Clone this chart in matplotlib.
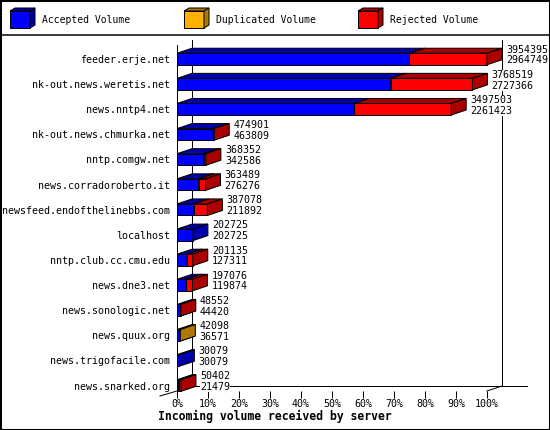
import matplotlib
matplotlib.use("Agg")
import matplotlib.pyplot as plt
from matplotlib.patches import Rectangle, Polygon

# data (bytes per server)
hosts = ["feeder.erje.net", "nk-out.news.weretis.net", "news.nntp4.net",
         "nk-out.news.chmurka.net", "nntp.comgw.net", "news.corradoroberto.it",
         "newsfeed.endofthelinebbs.com", "localhost", "nntp.club.cc.cmu.edu",
         "news.dne3.net", "news.sonologic.net", "news.quux.org",
         "news.trigofacile.com", "news.snarked.org"]
total = [3954395, 3768519, 3497503, 474901, 368352, 363489, 387078,
         202725, 201135, 197076, 48552, 42098, 30079, 50402]
accepted = [2964749, 2727366, 2261423, 463809, 342586, 276276, 211892,
            202725, 127311, 119874, 44420, 36571, 30079, 21479]
duplicated = [0, 0, 0, 0, 0, 0, 0, 0, 0, 0, 0, 5527, 0, 0]
rejected = [989646, 1041153, 1236080, 11092, 25766, 87213, 175186,
            0, 73824, 77202, 4132, 0, 0, 28923]

series = ["Accepted Volume", "Duplicated Volume", "Rejected Volume"]
front_col = ["#0000ff", "#ffb000", "#ff0000"]
dark_col = ["#0000aa", "#b07800", "#aa0000"]

MONO = "DejaVu Sans Mono"
W, H = 550, 430
LW = 0.72  # one pixel

fig = plt.figure(figsize=(W / 100, H / 100), dpi=100)
fig.patch.set_facecolor("white")

# main plot area: 0% .. 100% from x=177 to 487, rows 25.12 px apart
ROW0, PITCH = 59, 25.12
y_top = (45 - ROW0) / PITCH
y_bot = (391 - ROW0) / PITCH
ax = fig.add_axes([177 / W, (H - 391) / H, 310 / W, 346 / H])
ax.set_xlim(0, 100)
ax.set_ylim(y_bot, y_top)
for s in ax.spines.values():
    s.set_visible(False)

DX = 15 * 100 / 310   # depth offset, x
DY = 5 / PITCH        # depth offset, y
bh = 0.46

# walls / axis lines
kw = dict(color="black", lw=LW, clip_on=False, zorder=1)
ax.plot([DX, DX], [y_top - DY, y_bot - DY], **kw)
ax.plot([100 + DX, 100 + DX], [y_top - DY, y_bot - DY], **kw)
ax.plot([DX, 100 + DX + 8.06], [y_bot - DY, y_bot - DY], **kw)
ax.plot([0, 0], [y_top, y_bot], **kw)
ax.plot([100, 100 + DX], [y_bot, y_bot - DY], **kw)
ax.plot([0, -5.5], [y_bot, y_bot + DY], **kw)

vmax = max(total)
for i in range(len(hosts)):
    x0 = 0.0
    parts = [accepted[i], duplicated[i], rejected[i]]
    for k, v in enumerate(parts):
        if v <= 0:
            continue
        w = v / vmax * 100
        x1 = x0 + w
        yt, yb = i - bh / 2, i + bh / 2
        ax.add_patch(Rectangle((x0, yt), w, bh, facecolor=front_col[k],
                               edgecolor="black", lw=LW, zorder=2, clip_on=False))
        ax.add_patch(Polygon([(x0, yt), (x1, yt), (x1 + DX, yt - DY), (x0 + DX, yt - DY)],
                             facecolor=dark_col[k], edgecolor="black", lw=LW,
                             zorder=2, clip_on=False))
        ax.add_patch(Polygon([(x1, yt), (x1, yb), (x1 + DX, yb - DY), (x1 + DX, yt - DY)],
                             facecolor=dark_col[k], edgecolor="black", lw=LW,
                             zorder=2, clip_on=False))
        x0 = x1
    ax.text(total[i] / vmax * 100 + DX + 1.3, i - 0.16,
            f"{total[i]}\n{accepted[i]}", ha="left", va="center",
            family=MONO, fontsize=7.2, linespacing=1.1, zorder=3,
            bbox=dict(facecolor="white", edgecolor="none", pad=0))

ax.set_yticks(range(len(hosts)))
ax.set_yticklabels(hosts, family=MONO, fontsize=7.2)
ax.tick_params(axis="y", length=0, pad=5)
ticks = list(range(0, 101, 10))
ax.set_xticks(ticks)
ax.set_xticklabels([f"{t}%" for t in ticks], family=MONO, fontsize=7.2)
ax.tick_params(axis="x", length=5, width=LW, pad=1, direction="out")

fig.text(275 / W, 1 - 416 / H, "Incoming volume received by server",
         ha="center", va="center", family=MONO, fontsize=8.3, weight="bold")

# legend strip along the top
lg = fig.add_axes([0, 0, 1, 1])
lg.set_xlim(0, W)
lg.set_ylim(H, 0)
lg.axis("off")
lg.patch.set_alpha(0)
for k, name in enumerate(series):
    x = 10 + 174 * k
    lg.add_patch(Rectangle((x, 11), 20, 17, facecolor=front_col[k], edgecolor="black", lw=LW))
    lg.add_patch(Polygon([(x, 11), (x + 20, 11), (x + 25, 8), (x + 5, 8)],
                         facecolor=dark_col[k], edgecolor="black", lw=LW))
    lg.add_patch(Polygon([(x + 20, 11), (x + 25, 8), (x + 25, 25), (x + 20, 28)],
                         facecolor=dark_col[k], edgecolor="black", lw=LW))
    lg.text(x + 32, 20, name, ha="left", va="center", family=MONO, fontsize=7)
lg.plot([0, W], [35, 35], color="black", lw=LW * 1.5)
lg.add_patch(Rectangle((0, 0), W, H, fill=False, edgecolor="black", lw=2.2))

fig.savefig("out.png", dpi=100)
